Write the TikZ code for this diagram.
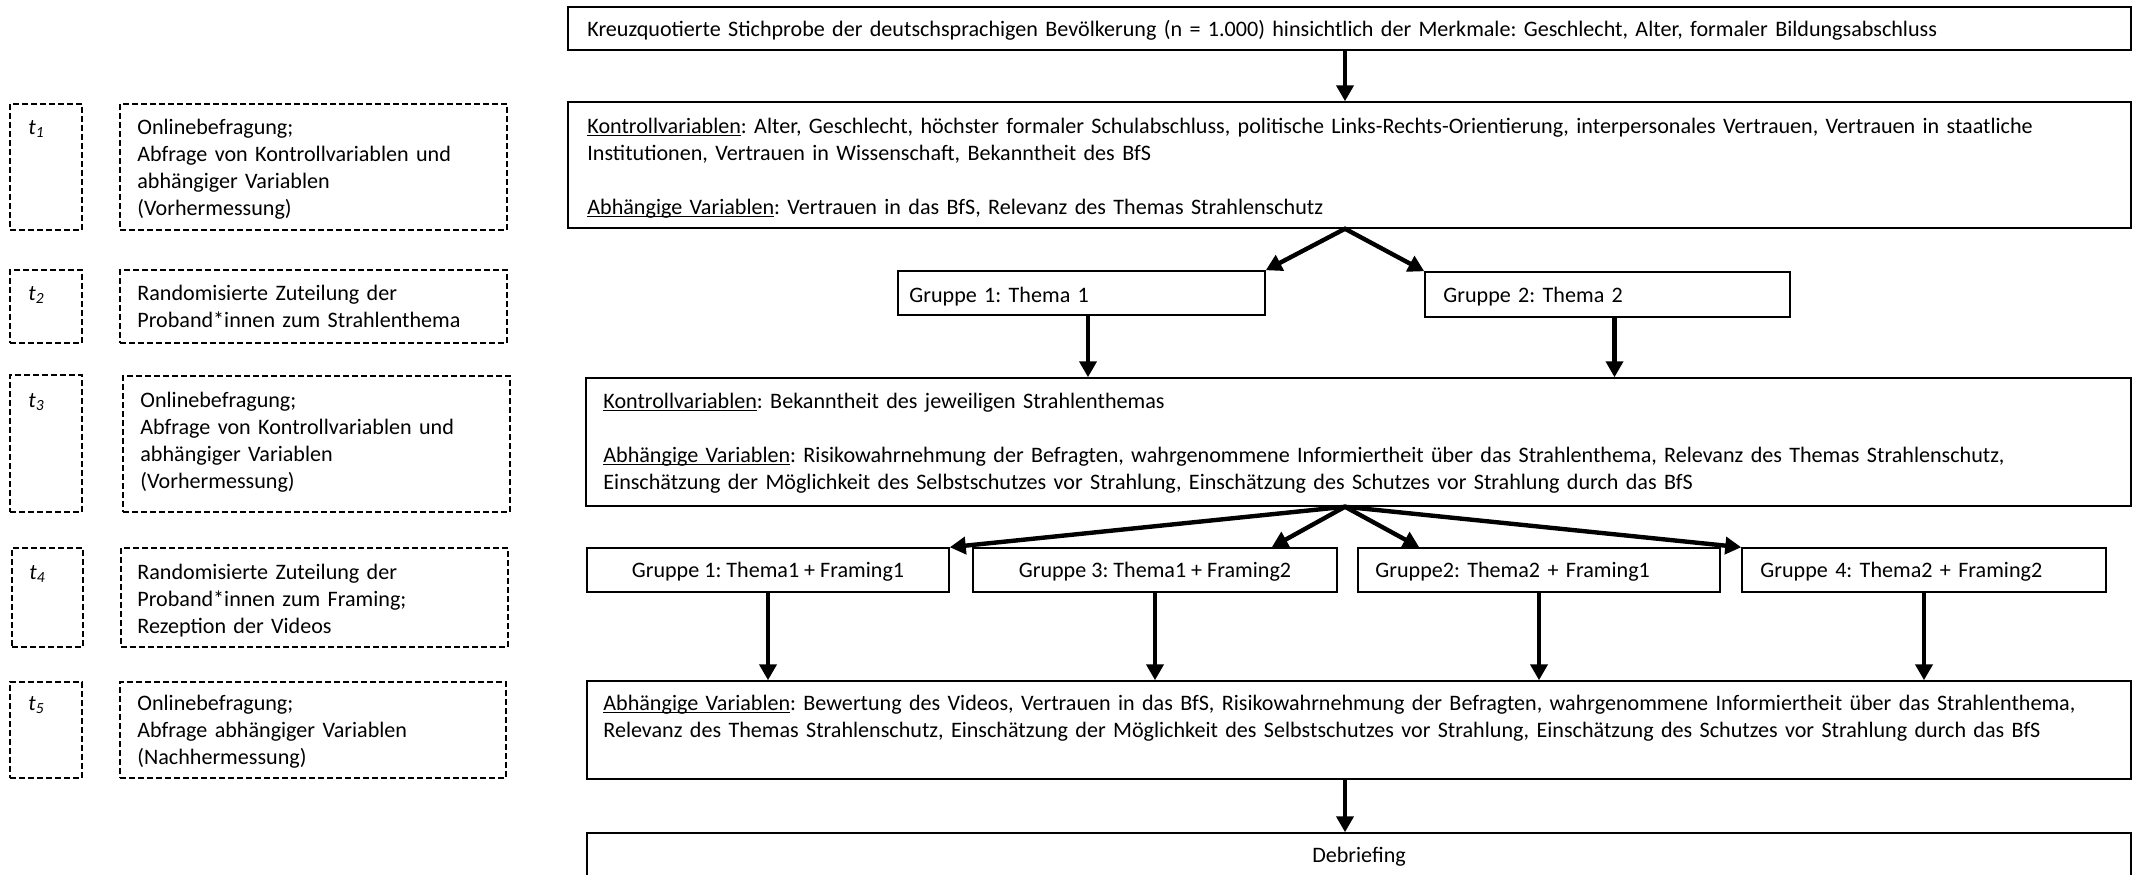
\documentclass[tikz,border=0pt]{standalone}
\usepackage{fontspec}
\setmainfont{Carlito}
\usetikzlibrary{arrows.meta,fit}
\frenchspacing
\newcommand\ulx[1]{\leavevmode\setbox0=\hbox{#1}\rlap{\rule[-1.6pt]{\wd0}{0.5pt}}\box0}
\newcommand\tlab[1]{{\itshape t\textsubscript{#1}}}
\begin{document}
\begin{tikzpicture}[x=0.5pt,y=-0.5pt,
  box/.style={draw, line width=0.75pt, inner sep=0pt},
  dbox/.style={draw, line width=0.9pt, inner sep=0pt, dash pattern=on 3pt off 1.5pt},
  txt/.style={inner sep=0pt, anchor=base west, align=left, text width=#1,
    font=\fontsize{11.05}{13.5}\selectfont\frenchspacing},
  txt/.default=780pt,
  ctxt/.style={inner sep=0pt, anchor=base, font=\fontsize{11.05}{13.5}\selectfont\frenchspacing},
  arr/.style={line width=2.2pt, -{Triangle[length=8pt,width=8.5pt]}},
  darr/.style={line width=2.2pt, {Triangle[length=8pt,width=8.5pt]}-{Triangle[length=8pt,width=8.5pt]}},
]
\clip (0,0) rectangle (2136,874);
\useasboundingbox (0,0) rectangle (2136,874);
\fill[white] (0,0) rectangle (2136,874);

% ---------- left column ----------
\node[dbox, fit={(10,104) (82,230)}] (tb1) {};
\node[dbox, fit={(120,104) (507,230)}] (db1) {};
\node[dbox, fit={(10,270) (82,343)}] (tb2) {};
\node[dbox, fit={(120,270) (507,343)}] (db2) {};
\node[dbox, fit={(10,375) (82,512)}] (tb3) {};
\node[dbox, fit={(123,376) (510,512)}] (db3) {};
\node[dbox, fit={(12,548) (83,647)}] (tb4) {};
\node[dbox, fit={(121,548) (508,647)}] (db4) {};
\node[dbox, fit={(10,682) (82,778)}] (tb5) {};
\node[dbox, fit={(120,682) (506,778)}] (db5) {};

\node[txt=40pt] (tt1) at (28,134) {\tlab{1}};
\node[txt=40pt] (tt2) at (28,300) {\tlab{2}};
\node[txt=40pt] (tt3) at (28,407) {\tlab{3}};
\node[txt=40pt] (tt4) at (29,579) {\tlab{4}};
\node[txt=40pt] (tt5) at (28,710) {\tlab{5}};

\node[txt=185pt] (dt1) at (137,134) {Onlinebefragung;\\Abfrage von Kontrollvariablen und\\abhängiger Variablen\\(Vorhermessung)};
\node[txt=185pt] (dt2) at (137,300) {Randomisierte Zuteilung der\\Proband*innen zum Strahlenthema};
\node[txt=185pt] (dt3) at (140,407) {Onlinebefragung;\\Abfrage von Kontrollvariablen und\\abhängiger Variablen\\(Vorhermessung)};
\node[txt=185pt] (dt4) at (137,579) {Randomisierte Zuteilung der\\Proband*innen zum Framing;\\Rezeption der Videos};
\node[txt=185pt] (dt5) at (137,710) {Onlinebefragung;\\Abfrage abhängiger Variablen\\(Nachhermessung)};

% ---------- right column ----------
\node[box, fit={(568,7) (2131,50)}] (top) {};
\node[box, fit={(568,102) (2131,228)}] (b2) {};
\node[box, fit={(898,271) (1265,315)}] (g1) {};
\node[box, fit={(1425,272) (1790,317)}] (g2) {};
\node[box, fit={(586,378) (2131,506)}] (b3) {};
\node[box, fit={(587,548) (949,592)}] (f1) {};
\node[box, fit={(973,548) (1337,592)}] (f3) {};
\node[box, fit={(1358,548) (1720,592)}] (f2) {};
\node[box, fit={(1742,548) (2106,592)}] (f4) {};
\node[box, fit={(587,681) (2131,779)}] (b4) {};
\node[box, fit={(587,833) (2131,900)}] (deb) {};

\node[txt] (topt) at (587,36) {Kreuzquotierte Stichprobe der deutschsprachigen Bevölkerung (n = 1.000) hinsichtlich der Merkmale: Geschlecht, Alter, formaler Bildungsabschluss};
\node[txt] (b2t) at (587,133) {\ulx{Kontrollvariablen}: Alter, Geschlecht, höchster formaler Schulabschluss, politische Links-Rechts-Orientierung, interpersonales Vertrauen, Vertrauen in staatliche\\
Institutionen, Vertrauen in Wissenschaft, Bekanntheit des BfS\\[13.5pt]
\ulx{Abhängige Variablen}: Vertrauen in das BfS, Relevanz des Themas Strahlenschutz};
\node[txt=170pt] (g1t) at (909,302) {Gruppe 1: Thema 1};
\node[txt=170pt] (g2t) at (1443,302) {Gruppe 2: Thema 2};
\node[txt] (b3t) at (603,408) {\ulx{Kontrollvariablen}: Bekanntheit des jeweiligen Strahlenthemas\\[13.5pt]
\ulx{Abhängige Variablen}: Risikowahrnehmung der Befragten, wahrgenommene Informiertheit über das Strahlenthema, Relevanz des Themas Strahlenschutz,\\
Einschätzung der Möglichkeit des Selbstschutzes vor Strahlung, Einschätzung des Schutzes vor Strahlung durch das BfS};
\node[ctxt] (f1t) at (768,577) {Gruppe 1: Thema1 + Framing1};
\node[ctxt] (f3t) at (1155,577) {Gruppe 3: Thema1 + Framing2};
\node[txt=170pt] (f2t) at (1375,577) {Gruppe2: Thema2 + Framing1};
\node[txt=170pt] (f4t) at (1760,577) {Gruppe 4: Thema2 + Framing2};
\node[txt] (b4t) at (603,710) {\ulx{Abhängige Variablen}: Bewertung des Videos, Vertrauen in das BfS, Risikowahrnehmung der Befragten, wahrgenommene Informiertheit über das Strahlenthema,\\
Relevanz des Themas Strahlenschutz, Einschätzung der Möglichkeit des Selbstschutzes vor Strahlung, Einschätzung des Schutzes vor Strahlung durch das BfS};
\node[ctxt] (debt) at (1359,862) {Debriefing};

% ---------- connectors ----------
\path (top.south) ++(-4.5,0) coordinate (s1);
\path (b2.south) ++(-4.5,0) coordinate (s2);
\path (b3.south) ++(-13.5,0) coordinate (s3);
\path (b4.south) ++(-14,0) coordinate (s4);
\path (g1.south) ++(6.5,0) coordinate (sg1);
\path (g2.south) ++(7,0) coordinate (sg2);
\path (f3.north east) ++(-66,0) coordinate (e3);
\path (f2.north west) ++(62,0) coordinate (e2);

\draw[arr] (s1) -- (s1 |- b2.north);
\draw[darr] (g1.north east) -- (s2) -- (g2.north west);
\draw[arr] (sg1) -- (sg1 |- b3.north);
\draw[arr] (sg2) -- (sg2 |- b3.north);
\draw[darr] (f1.north east) -- (s3) -- (f4.north west);
\draw[darr] (e3) -- (s3) -- (e2);
\draw[arr] (f1.south) -- (f1.south |- b4.north);
\draw[arr] (f3.south) -- (f3.south |- b4.north);
\draw[arr] (f2.south) -- (f2.south |- b4.north);
\draw[arr] (f4.south) -- (f4.south |- b4.north);
\draw[arr] (s4) -- (s4 |- deb.north);
\end{tikzpicture}
\end{document}
